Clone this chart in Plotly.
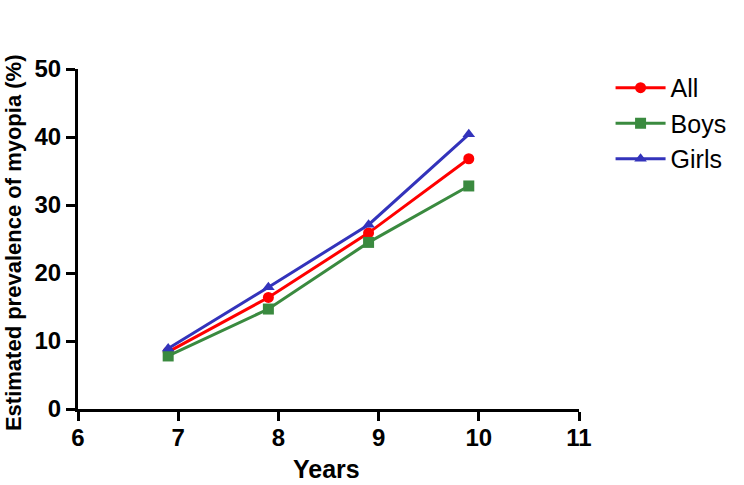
import plotly.graph_objects as go

years = [6.9, 7.9, 8.9, 9.9]
series_names = ["All", "Boys", "Girls"]
all_vals = [8.4, 16.4, 25.9, 36.8]
boys_vals = [7.8, 14.7, 24.5, 32.8]
girls_vals = [8.9, 17.9, 27.1, 40.4]
x_ticks = [6, 7, 8, 9, 10, 11]
y_ticks = [0, 10, 20, 30, 40, 50]
x_title = "Years"
y_title = "Estimated prevalence of myopia (%)"

colors = ["#FF0000", "#3A8A3F", "#3333BB"]
symbols = ["circle", "square", "triangle-up"]

FONT = "Liberation Sans, Arial"

fig = go.Figure()
for name, vals, c, s in zip(series_names, [all_vals, boys_vals, girls_vals], colors, symbols):
    fig.add_trace(go.Scatter(x=years, y=vals, name=name, mode="lines+markers",
                             line=dict(color=c, width=3),
                             marker=dict(symbol=s, size=11, color=c)))

axis_common = dict(showgrid=False, zeroline=False, showline=True, linecolor="black",
                   linewidth=3, automargin=False, ticks="outside", ticklen=9,
                   tickwidth=3, tickcolor="black",
                   tickfont=dict(size=24, family=FONT, weight="bold"))

fig.update_layout(
    width=744, height=485,
    margin=dict(l=78, r=145, t=69, b=76),
    plot_bgcolor="white", paper_bgcolor="white",
    font=dict(family=FONT, color="black"),
    legend=dict(x=1.063, y=1.012, xanchor="left", yanchor="top",
                font=dict(size=25, family=FONT), itemwidth=50),
    xaxis=dict(range=[6, 11], tickvals=x_ticks, ticklabelstandoff=-4, **axis_common),
    yaxis=dict(range=[0, 50], tickvals=y_ticks, **axis_common),
    annotations=[
        dict(text="<b>" + x_title + "</b>", xref="paper", yref="paper", x=0.497, y=0,
             yshift=-60, xanchor="center", yanchor="middle", showarrow=False,
             font=dict(size=25, family=FONT)),
        dict(text="<b>" + y_title + "</b>", xref="paper", yref="paper", x=0, y=0.488,
             xshift=-65, xanchor="center", yanchor="middle", showarrow=False,
             textangle=-90, font=dict(size=22, family=FONT)),
    ],
)
fig.write_html("out.html",
               post_script="document.body.style.margin='0';document.body.style.overflow='hidden';document.documentElement.style.overflow='hidden';",
               config={"displayModeBar": False})
